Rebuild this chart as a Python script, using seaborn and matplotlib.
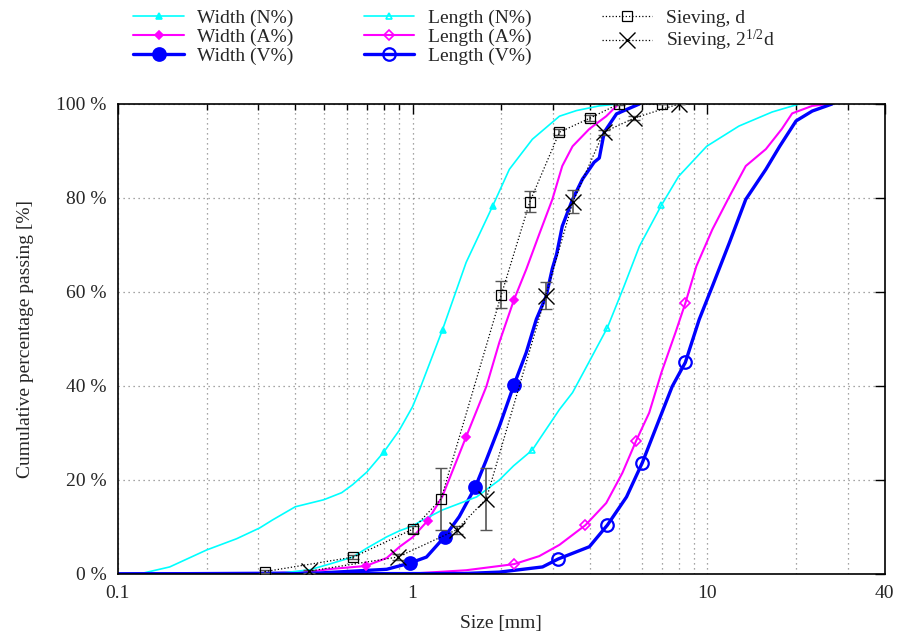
import matplotlib
matplotlib.use("Agg")
import matplotlib.pyplot as plt
import seaborn as sns
from matplotlib.lines import Line2D
from matplotlib.ticker import FixedLocator, NullFormatter

# ---- curves (size in mm, cumulative % passing) ----
width_n_x = [0.10, 0.122, 0.15, 0.20, 0.253, 0.303, 0.335, 0.40, 0.50, 0.575, 0.626, 0.70,
             0.80, 0.90, 1.0, 1.056, 1.264, 1.52, 1.87, 2.13, 2.55, 3.15, 3.6, 4.3, 5.0]
width_n_y = [0, 0.2, 1.5, 5.1, 7.5, 9.8, 11.5, 14.3, 15.8, 17.3, 19.0, 21.7,
             26.0, 30.5, 35.6, 39.2, 52.0, 66.3, 78.3, 86.1, 92.5, 97.4, 98.6, 99.6, 100]
width_n_mx = [0.797, 1.264, 1.87]
width_n_my = [26.0, 52.0, 78.3]

width_a_x = [0.10, 0.30, 0.437, 0.535, 0.693, 0.817, 0.904, 1.0, 1.124, 1.26, 1.52, 1.78,
             1.97, 2.21, 2.43, 2.69, 2.98, 3.22, 3.49, 3.98, 4.54, 5.0]
width_a_y = [0, 0.1, 0.4, 1.1, 1.7, 3.4, 5.8, 7.8, 11.3, 16.4, 29.2, 39.9,
             49.3, 58.4, 64.8, 72.3, 79.7, 86.8, 91.0, 94.7, 97.4, 100]
width_a_mx = [0.693, 1.124, 1.52, 2.21]
width_a_my = [1.7, 11.3, 29.2, 58.4]

width_v_x = [0.10, 0.48, 0.817, 0.977, 1.115, 1.284, 1.44, 1.635, 1.78, 1.97, 2.21, 2.43,
             2.63, 2.84, 2.98, 3.08, 3.22, 3.49, 3.77, 4.13, 4.3, 4.47, 4.92, 5.88]
width_v_y = [0, 0.2, 1.0, 2.3, 3.6, 7.9, 12.2, 18.6, 24.3, 31.4, 40.3, 47.1,
             54.2, 59.1, 65.0, 68.0, 74.0, 79.7, 84.0, 87.6, 88.5, 94.0, 97.9, 100]
width_v_mx = [0.977, 1.284, 1.635, 2.21]
width_v_my = [2.3, 7.9, 18.6, 40.3]

length_n_x = [0.10, 0.30, 0.36, 0.448, 0.535, 0.626, 0.70, 0.817, 0.904, 1.0, 1.056, 1.26,
              1.65, 1.97, 2.2, 2.55, 2.69, 3.15, 3.49, 4.0, 4.58, 5.2, 5.88, 6.99, 7.99,
              9.95, 12.8, 16.6, 20.5]
length_n_y = [0, 0, 0.2, 0.9, 2.3, 3.6, 5.5, 7.9, 9.2, 10.2, 11.1, 13.6,
              16.4, 20.0, 23.0, 26.4, 28.6, 35.0, 38.6, 45.5, 52.4, 61.0, 69.7, 78.5, 84.6,
              91.0, 95.3, 98.3, 100]
length_n_mx = [2.55, 4.58, 6.99]
length_n_my = [26.4, 52.4, 78.5]

length_a_x = [0.10, 1.0, 1.52, 2.21, 2.69, 3.15, 3.86, 4.54, 5.15, 5.74, 6.35, 6.99, 7.8,
              8.42, 9.18, 10.4, 11.9, 13.5, 15.8, 17.9, 19.4, 22.7, 25.9]
length_a_y = [0, 0.1, 0.8, 2.1, 3.8, 6.2, 10.4, 15.1, 21.5, 28.4, 34.3, 42.9, 51.4,
              57.6, 65.5, 73.3, 80.4, 86.8, 90.4, 94.7, 98.0, 99.6, 100]
length_a_mx = [2.21, 3.86, 5.74, 8.42]
length_a_my = [2.1, 10.4, 28.4, 57.6]

length_v_x = [0.10, 1.5, 1.97, 2.76, 3.12, 3.98, 4.58, 5.32, 6.02, 6.86, 7.6, 8.42, 9.39,
              10.4, 11.9, 13.5, 15.8, 17.6, 20.0, 22.7, 26.5]
length_v_y = [0, 0.1, 0.4, 1.5, 3.2, 5.8, 10.4, 16.4, 23.7, 32.8, 39.9, 45.0, 54.2,
              61.2, 70.6, 79.7, 86.1, 91.0, 96.4, 98.5, 100]
length_v_mx = [3.12, 4.58, 6.02, 8.42]
length_v_my = [3.2, 10.4, 23.7, 45.0]

sieve_d_x = [0.315, 0.63, 1.0, 1.25, 2.0, 2.5, 3.15, 4.0, 5.0, 7.0]
sieve_d_y = [0.5, 3.6, 9.5, 16.0, 59.4, 79.2, 94.0, 97.0, 100, 100]
sieve_d_err = [0.3, 0.5, 0.8, 6.6, 2.9, 2.2, 0.6, 0.6, 0.2, 0.1]

sieve_s_x = [0.445, 0.89, 1.41, 1.78, 2.83, 3.5, 4.45, 5.65, 8.0]
sieve_s_y = [0.6, 3.6, 9.4, 16.0, 59.2, 79.2, 94.0, 97.0, 100]
sieve_s_err = [0.3, 0.6, 0.8, 6.6, 2.9, 2.4, 0.5, 0.5, 0.1]

x_minor = [0.2, 0.3, 0.4, 0.5, 0.6, 0.7, 0.8, 0.9, 2, 3, 4, 5, 6, 7, 8, 9, 20, 30]
x_major = [0.1, 1, 10, 40]
x_labels = ["0.1", "1", "10", "40"]
y_ticks = [0, 20, 40, 60, 80, 100]
y_labels = [f"{v} %" for v in y_ticks]

CYAN, MAGENTA, BLUE = "#00ffff", "#ff00ff", "#0000ff"

sns.set_style("white")
plt.rcParams["font.family"] = ["Liberation Serif", "DejaVu Serif"]
plt.rcParams["mathtext.fontset"] = "custom"
plt.rcParams["mathtext.rm"] = "Liberation Serif"
plt.rcParams["mathtext.it"] = "Liberation Serif:italic"
plt.rcParams["font.size"] = 14

fig = plt.figure(figsize=(9.06, 6.36), dpi=100)
ax = fig.add_axes([0.130, 0.0975, 0.8466, 0.739])
ax.set_xscale("log")

curves = [
    (width_n_x, width_n_y, width_n_mx, width_n_my, CYAN, 1.2, "^", 4.5, True),
    (width_a_x, width_a_y, width_a_mx, width_a_my, MAGENTA, 1.5, "D", 4.5, True),
    (width_v_x, width_v_y, width_v_mx, width_v_my, BLUE, 2.4, "o", 9, True),
    (length_n_x, length_n_y, length_n_mx, length_n_my, CYAN, 1.2, "^", 5, False),
    (length_a_x, length_a_y, length_a_mx, length_a_my, MAGENTA, 1.5, "D", 5, False),
    (length_v_x, length_v_y, length_v_mx, length_v_my, BLUE, 2.4, "o", 9, False),
]
names = ["Width (N%)", "Width (A%)", "Width (V%)",
         "Length (N%)", "Length (A%)", "Length (V%)"]

handles = []
for (cx, cy, mx, my, col, lw, mk, ms, filled), name in zip(curves, names):
    sns.lineplot(x=cx, y=cy, ax=ax, color=col, lw=lw, sort=False, estimator=None)
    fc = col if filled else "none"
    mew = 1.6 if mk == "o" else 1.2
    ax.plot(mx, my, ls="none", marker=mk, ms=ms, mfc=fc, mec=col, mew=mew, zorder=4)
    handles.append(Line2D([], [], color=col, lw=lw, marker=mk, ms=ms, mfc=fc, mec=col, mew=mew))

# sieving with error bars
ax.errorbar(sieve_d_x, sieve_d_y, yerr=sieve_d_err, fmt="none", ecolor="#555555",
            elinewidth=1.2, capsize=4.5, zorder=5)
ax.errorbar(sieve_s_x, sieve_s_y, yerr=sieve_s_err, fmt="none", ecolor="#555555",
            elinewidth=1.2, capsize=4.5, zorder=5)
ax.plot(sieve_d_x, sieve_d_y, ls=":", color="black", lw=0.9, marker="s", ms=7,
        mfc="none", mec="black", mew=0.9, zorder=6)
ax.plot(sieve_s_x, sieve_s_y, ls=":", color="black", lw=0.9, marker="x", ms=11,
        mec="black", mew=1.0, zorder=6)
handles.append(Line2D([], [], ls=":", color="black", lw=0.9, marker="s", ms=7,
                      mfc="none", mec="black", mew=0.9))
handles.append(Line2D([], [], ls=":", color="black", lw=0.9, marker="x", ms=11,
                      mec="black", mew=1.0))
names += ["Sieving, d", r"Sieving, 2$^{1/2}$d"]

ax.set_xlim(0.1, 40)
ax.set_ylim(0, 100)
ax.xaxis.set_major_locator(FixedLocator(x_major))
ax.xaxis.set_minor_locator(FixedLocator(x_minor))
ax.xaxis.set_minor_formatter(NullFormatter())
ax.set_xticklabels(x_labels)
ax.set_yticks(y_ticks)
ax.set_yticklabels(y_labels)
ax.tick_params(which="both", direction="in", top=True, right=True, labelsize=14, color="black")
ax.tick_params(which="major", length=7, width=1, pad=8)
ax.tick_params(which="minor", length=4, width=1)
ax.grid(True, which="both", ls=(0, (1, 3)), color="#888888", lw=0.9)
ax.set_axisbelow(True)
for sp in ax.spines.values():
    sp.set_color("black")
    sp.set_linewidth(1.2)

ax.set_xlabel("Size [mm]", fontsize=14, labelpad=9)
ax.set_ylabel("Cumulative percentage passing [%]", fontsize=14, labelpad=16)

fig.legend(handles, names, ncol=3, loc="upper left", bbox_to_anchor=(0.145, 0.988),
           frameon=False, fontsize=14, handlelength=2.6, handletextpad=0.7,
           columnspacing=3.6, labelspacing=0.05, borderpad=0.1, borderaxespad=0)

fig.savefig("out.png", dpi=100)
